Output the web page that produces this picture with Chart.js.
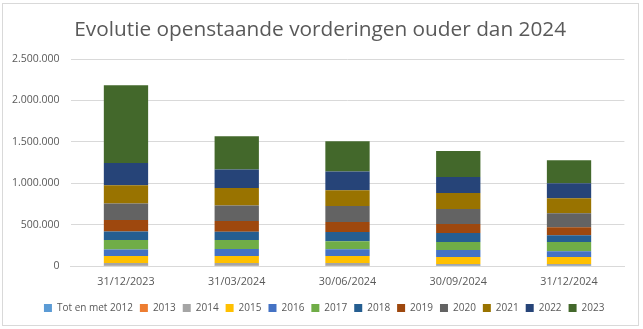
<!DOCTYPE html>
<html>
<head>
<meta charset="utf-8">
<script src="https://cdn.jsdelivr.net/npm/chart.js@4/dist/chart.umd.min.js"></script>
<style>
  html, body { margin: 0; padding: 0; background: #fff; }
  canvas { display: block; }
</style>
</head>
<body>
<canvas id="chart" width="643" height="329"></canvas>
<script>
// Peildata
const periods = ["31/12/2023", "31/03/2024", "30/06/2024", "30/09/2024", "31/12/2024"];

// Openstaand bedrag per jaar van ontstaan
const tot2012 = [4000, 3500, 3000, 2500, 2500];
const y2013 = [3000, 2500, 2500, 2000, 2000];
const y2014 = [29000, 30000, 30000, 20000, 19000];
const y2015 = [84000, 84000, 84000, 84000, 84000];
const y2016 = [80000, 84000, 84000, 84000, 72000];
const y2017 = [113000, 109000, 97000, 97000, 109000];
const y2018 = [105000, 101000, 109000, 109000, 84000];
const y2019 = [137000, 129000, 121000, 109000, 97000];
const y2020 = [201000, 189000, 193000, 181000, 169000];
const y2021 = [221000, 209000, 193000, 193000, 181000];
const y2022 = [266000, 225000, 225000, 193000, 181000];
const y2023 = [941000, 402000, 366000, 314000, 278000];

const yTicks = [0, 500000, 1000000, 1500000, 2000000, 2500000];

const series = [
    ["Tot en met 2012", tot2012, "#5B9BD5"],
    ["2013", y2013, "#ED7D31"],
    ["2014", y2014, "#A5A5A5"],
    ["2015", y2015, "#FFC000"],
    ["2016", y2016, "#4472C4"],
    ["2017", y2017, "#70AD47"],
    ["2018", y2018, "#255E91"],
    ["2019", y2019, "#9E480E"],
    ["2020", y2020, "#636363"],
    ["2021", y2021, "#997300"],
    ["2022", y2022, "#264478"],
    ["2023", y2023, "#43682B"]
];

const FONT = "'Open Sans', 'Noto Sans', sans-serif";
const TEXT = "#595959";
const GRID = "#d9d9d9";

// 1.234.567 notatie
function fmt(v) {
    return String(v).replace(/\B(?=(\d{3})+(?!\d))/g, ".");
}

// lichtgrijze rand rond de grafiek
const frame = {
    id: "frame",
    afterDraw(chart) {
        const c = chart.ctx;
        c.save();
        c.strokeStyle = GRID;
        c.lineWidth = 1;
        c.strokeRect(2.5, 3.5, 636, 322);
        c.restore();
    }
};

// titel en legenda centreren over de volle breedte i.p.v. tot de rechter padding
const recenter = {
    id: "recenter",
    afterLayout(chart) {
        const lg = chart.legend;
        if (lg) { lg.left += 12; lg.right += 12; }
        const tb = chart.titleBlock;
        if (tb) { tb.left += 8; tb.right += 8; }
    }
};

new Chart(document.getElementById("chart"), {
    type: "bar",
    data: {
        labels: periods,
        datasets: series.map(([label, data, color]) => ({
            label: label,
            data: data,
            backgroundColor: color,
            borderWidth: 0,
            categoryPercentage: 1,
            barPercentage: 0.4
        }))
    },
    options: {
        responsive: false,
        animation: false,
        layout: { padding: { left: 0, right: 18.6, top: 0, bottom: 6 } },
        scales: {
            x: {
                stacked: true,
                grid: { display: false, drawTicks: false },
                border: { display: true, color: GRID },
                ticks: { color: TEXT, font: { family: FONT, size: 10.8 }, padding: 9 },
                afterFit(axis) { axis.height = 30; }
            },
            y: {
                stacked: true,
                min: 0,
                max: 2500000,
                afterBuildTicks(axis) { axis.ticks = yTicks.map(v => ({ value: v })); },
                grid: { color: GRID, drawTicks: false },
                border: { display: false },
                ticks: {
                    color: TEXT,
                    font: { family: FONT, size: 10.5 },
                    padding: 11,
                    callback: v => fmt(v)
                },
                afterFit(axis) { axis.width = 70.6; }
            }
        },
        plugins: {
            title: {
                display: true,
                text: "Evolutie openstaande vorderingen ouder dan 2024",
                color: TEXT,
                font: { family: FONT, size: 20.8, weight: "normal" },
                padding: { top: 17.4, bottom: 16.7 }
            },
            legend: {
                position: "bottom",
                labels: {
                    color: TEXT,
                    font: { family: FONT, size: 10 },
                    boxWidth: 8,
                    boxHeight: 8,
                    padding: 7
                }
            },
            tooltip: { enabled: false }
        }
    },
    plugins: [frame, recenter]
});
</script>
</body>
</html>
